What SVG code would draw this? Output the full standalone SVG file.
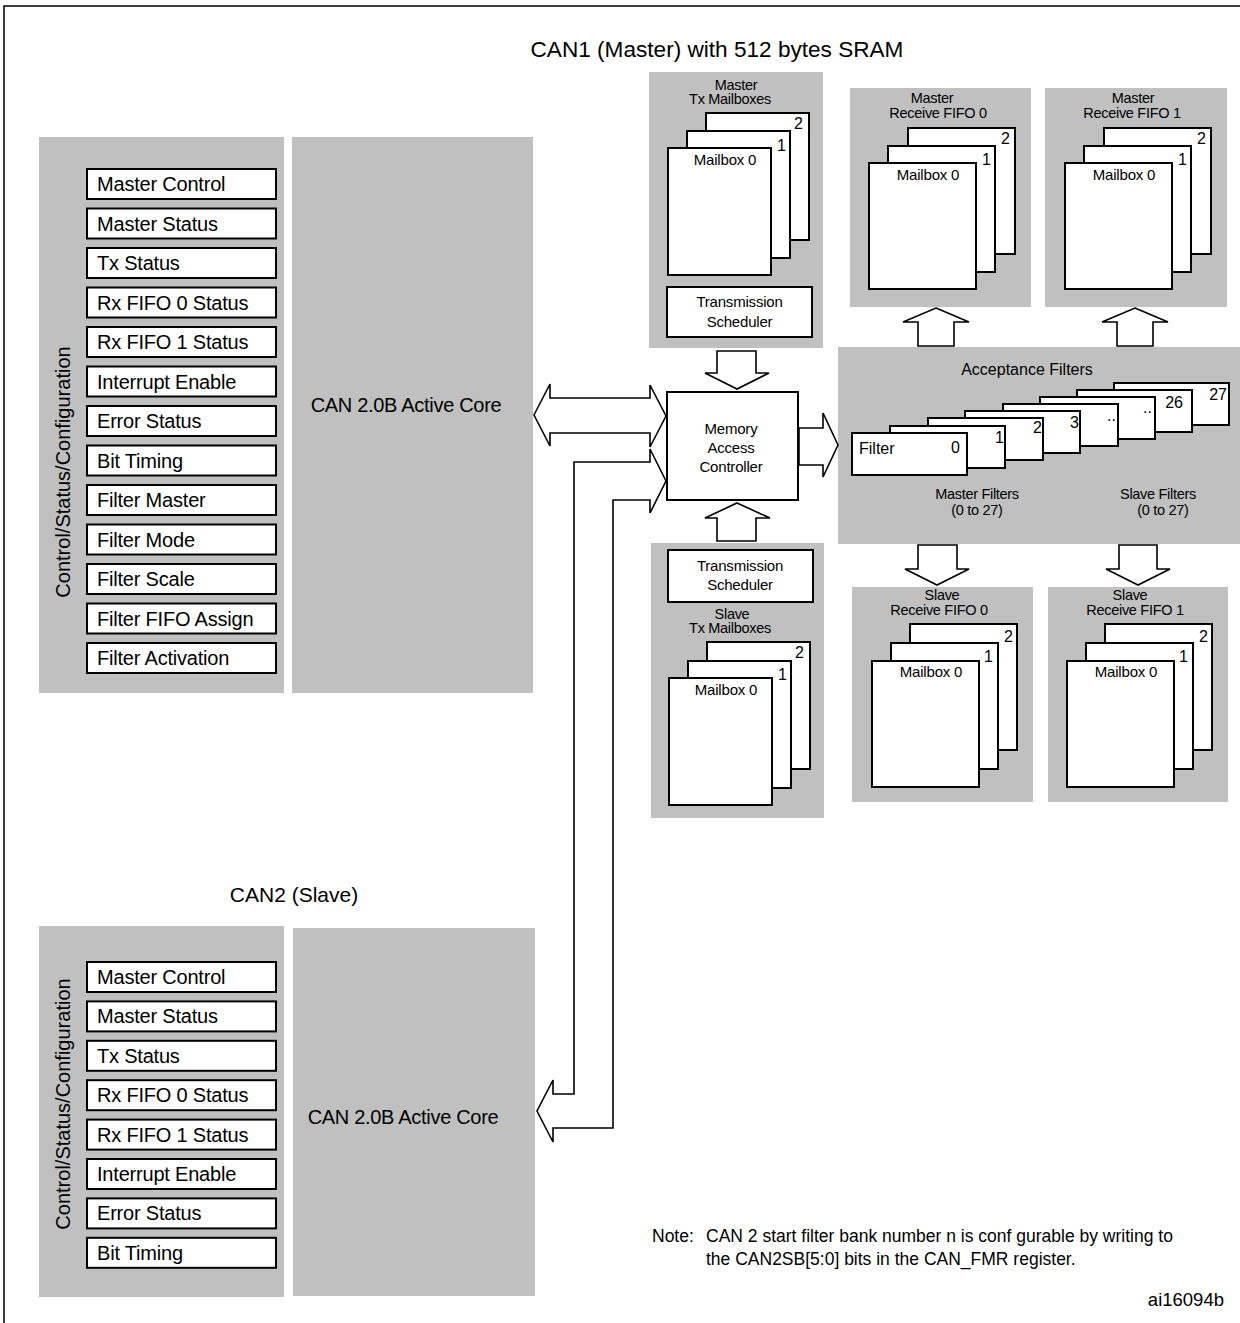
<svg xmlns="http://www.w3.org/2000/svg" width="1240" height="1323" viewBox="0 0 1240 1323">
<style>
text{font-family:"Liberation Sans",Arial,sans-serif;fill:#000}
.panel{fill:#c0c0c0}
.box{fill:#fff;stroke:#000;stroke-width:2}
.arrow{fill:#fff;stroke:#000;stroke-width:1.6;stroke-linejoin:miter}
.reg{font-size:20px;letter-spacing:-0.2px}
.sm{font-size:14.5px;letter-spacing:-0.3px;text-anchor:middle}
.mb{font-size:15px;letter-spacing:-0.2px;text-anchor:middle}
.num{font-size:16px;text-anchor:end}
.mid{text-anchor:middle}
.note{font-size:17.5px}
</style>
<rect width="1240" height="1323" fill="#fff"/>
<path d="M4,1323 V6 H1240" fill="none" stroke="#000" stroke-width="1.5"/>

<text x="717" y="57" font-size="22.6" class="mid">CAN1 (Master) with 512 bytes SRAM</text>
<text x="294" y="902" font-size="21" class="mid">CAN2 (Slave)</text>

<!-- CAN1 registers -->
<g id="can1-regs">
<rect class="panel" x="39" y="137" width="245" height="556"/>
<text transform="translate(70,472) rotate(-90)" font-size="20" class="mid">Control/Status/Configuration</text>
<rect class="box" x="87" y="169" width="189" height="30"/><text class="reg" x="97" y="191">Master Control</text>
<rect class="box" x="87" y="208.5" width="189" height="30"/><text class="reg" x="97" y="230.5">Master Status</text>
<rect class="box" x="87" y="248" width="189" height="30"/><text class="reg" x="97" y="270">Tx Status</text>
<rect class="box" x="87" y="287.5" width="189" height="30"/><text class="reg" x="97" y="309.5">Rx FIFO 0 Status</text>
<rect class="box" x="87" y="327" width="189" height="30"/><text class="reg" x="97" y="349">Rx FIFO 1 Status</text>
<rect class="box" x="87" y="366.5" width="189" height="30"/><text class="reg" x="97" y="388.5">Interrupt Enable</text>
<rect class="box" x="87" y="406" width="189" height="30"/><text class="reg" x="97" y="428">Error Status</text>
<rect class="box" x="87" y="445.5" width="189" height="30"/><text class="reg" x="97" y="467.5">Bit Timing</text>
<rect class="box" x="87" y="485" width="189" height="30"/><text class="reg" x="97" y="507">Filter Master</text>
<rect class="box" x="87" y="524.5" width="189" height="30"/><text class="reg" x="97" y="546.5">Filter Mode</text>
<rect class="box" x="87" y="564" width="189" height="30"/><text class="reg" x="97" y="586">Filter Scale</text>
<rect class="box" x="87" y="603.5" width="189" height="30"/><text class="reg" x="97" y="625.5">Filter FIFO Assign</text>
<rect class="box" x="87" y="643" width="189" height="30"/><text class="reg" x="97" y="665">Filter Activation</text>
</g>
<g id="can1-core">
<rect class="panel" x="292" y="137" width="241" height="556"/>
<text x="406" y="412" font-size="20" letter-spacing="-0.3" class="mid">CAN 2.0B Active Core</text>
</g>

<!-- CAN2 registers -->
<g id="can2-regs">
<rect class="panel" x="39" y="926" width="245" height="371"/>
<text transform="translate(70,1104) rotate(-90)" font-size="20" class="mid">Control/Status/Configuration</text>
<rect class="box" x="87" y="962" width="189" height="30"/><text class="reg" x="97" y="984">Master Control</text>
<rect class="box" x="87" y="1001.4" width="189" height="30"/><text class="reg" x="97" y="1023.4">Master Status</text>
<rect class="box" x="87" y="1040.8" width="189" height="30"/><text class="reg" x="97" y="1062.8">Tx Status</text>
<rect class="box" x="87" y="1080.2" width="189" height="30"/><text class="reg" x="97" y="1102.2">Rx FIFO 0 Status</text>
<rect class="box" x="87" y="1119.6" width="189" height="30"/><text class="reg" x="97" y="1141.6">Rx FIFO 1 Status</text>
<rect class="box" x="87" y="1159" width="189" height="30"/><text class="reg" x="97" y="1181">Interrupt Enable</text>
<rect class="box" x="87" y="1198.4" width="189" height="30"/><text class="reg" x="97" y="1220.4">Error Status</text>
<rect class="box" x="87" y="1237.8" width="189" height="30"/><text class="reg" x="97" y="1259.8">Bit Timing</text>
</g>
<g id="can2-core">
<rect class="panel" x="293" y="928" width="242" height="368"/>
<text x="403" y="1124" font-size="20" letter-spacing="-0.3" class="mid">CAN 2.0B Active Core</text>
</g>

<!-- Master Tx Mailboxes -->
<g id="master-tx">
<rect class="panel" x="649" y="72" width="174" height="276"/>
<text class="sm" x="736" y="90">Master</text>
<text class="sm" x="730" y="104">Tx Mailboxes</text>
<rect class="box" x="706" y="113" width="103" height="127"/><text class="num" x="803" y="129">2</text>
<rect class="box" x="687" y="131" width="103" height="127"/><text class="num" x="786" y="151">1</text>
<rect class="box" x="668" y="148" width="103" height="127"/><text class="mb" x="725" y="165">Mailbox 0</text>
<rect class="box" x="667" y="287" width="145" height="50"/>
<text class="mb" x="739.5" y="307">Transmission</text>
<text class="mb" x="739.5" y="327">Scheduler</text>
</g>

<!-- Master Receive FIFO 0 -->
<g id="master-fifo0">
<rect class="panel" x="850" y="88" width="181" height="219"/>
<text class="sm" x="932" y="103">Master</text>
<text class="sm" x="938" y="118">Receive FIFO 0</text>
<rect class="box" x="908" y="128" width="107" height="126"/><text class="num" x="1010" y="144">2</text>
<rect class="box" x="888" y="146" width="107" height="126"/><text class="num" x="991" y="165">1</text>
<rect class="box" x="869" y="163" width="107" height="126"/><text class="mb" x="928" y="180">Mailbox 0</text>
</g>

<!-- Master Receive FIFO 1 -->
<g id="master-fifo1">
<rect class="panel" x="1045" y="88" width="182" height="219"/>
<text class="sm" x="1133" y="103">Master</text>
<text class="sm" x="1132" y="118">Receive FIFO 1</text>
<rect class="box" x="1104" y="128" width="107" height="126"/><text class="num" x="1206" y="144">2</text>
<rect class="box" x="1084" y="146" width="107" height="126"/><text class="num" x="1187" y="165">1</text>
<rect class="box" x="1065" y="163" width="107" height="126"/><text class="mb" x="1124" y="180">Mailbox 0</text>
</g>

<!-- Memory Access Controller -->
<g id="mac">
<rect class="box" x="667" y="392" width="131" height="108"/>
<text class="mb" x="731" y="434" font-size="15.5">Memory</text>
<text class="mb" x="731" y="453" font-size="15.5">Access</text>
<text class="mb" x="731" y="472" font-size="15.5">Controller</text>
</g>

<!-- Acceptance Filters -->
<g id="acceptance-filters">
<rect class="panel" x="838" y="347" width="402" height="197"/>
<text x="1027" y="375" font-size="16" class="mid">Acceptance Filters</text>
<rect class="box" x="1114" y="383" width="115" height="42"/><text class="num" x="1227" y="400">27</text>
<rect class="box" x="1077" y="390" width="115" height="42"/><text class="num" x="1183" y="408">26</text>
<rect class="box" x="1040" y="397" width="115" height="42"/><text class="num" x="1152" y="413">..</text>
<rect class="box" x="1003" y="404" width="115" height="42"/><text class="num" x="1116" y="421">..</text>
<rect class="box" x="965" y="411" width="115" height="42"/><text class="num" x="1079" y="428">3</text>
<rect class="box" x="928" y="418" width="115" height="42"/><text class="num" x="1042" y="433">2</text>
<rect class="box" x="890" y="426" width="115" height="42"/><text class="num" x="1004" y="443">1</text>
<rect class="box" x="852" y="433" width="115" height="42"/>
<text x="859" y="454" font-size="16">Filter</text><text class="num" x="960" y="453">0</text>
<text class="sm" x="977" y="499">Master Filters</text>
<text class="sm" x="977" y="515">(0 to 27)</text>
<text class="sm" x="1158" y="499">Slave Filters</text>
<text class="sm" x="1163" y="515">(0 to 27)</text>
</g>

<!-- Slave Tx Mailboxes -->
<g id="slave-tx">
<rect class="panel" x="651" y="543" width="173" height="275"/>
<rect class="box" x="668" y="550" width="145" height="52"/>
<text class="mb" x="740" y="571">Transmission</text>
<text class="mb" x="740" y="590">Scheduler</text>
<text class="sm" x="732" y="619">Slave</text>
<text class="sm" x="730" y="633">Tx Mailboxes</text>
<rect class="box" x="707" y="642" width="103" height="127"/><text class="num" x="804" y="658">2</text>
<rect class="box" x="688" y="661" width="103" height="127"/><text class="num" x="787" y="680">1</text>
<rect class="box" x="669" y="678" width="103" height="127"/><text class="mb" x="726" y="695">Mailbox 0</text>
</g>

<!-- Slave Receive FIFO 0 -->
<g id="slave-fifo0">
<rect class="panel" x="852" y="587" width="181" height="215"/>
<text class="sm" x="942" y="600">Slave</text>
<text class="sm" x="939" y="615">Receive FIFO 0</text>
<rect class="box" x="910" y="624" width="107" height="126"/><text class="num" x="1013" y="642">2</text>
<rect class="box" x="891" y="643" width="107" height="126"/><text class="num" x="993" y="662">1</text>
<rect class="box" x="872" y="661" width="107" height="126"/><text class="mb" x="931" y="677">Mailbox 0</text>
</g>

<!-- Slave Receive FIFO 1 -->
<g id="slave-fifo1">
<rect class="panel" x="1048" y="587" width="180" height="215"/>
<text class="sm" x="1130" y="600">Slave</text>
<text class="sm" x="1135" y="615">Receive FIFO 1</text>
<rect class="box" x="1105" y="624" width="107" height="126"/><text class="num" x="1208" y="642">2</text>
<rect class="box" x="1086" y="643" width="107" height="126"/><text class="num" x="1188" y="662">1</text>
<rect class="box" x="1067" y="661" width="107" height="126"/><text class="mb" x="1126" y="677">Mailbox 0</text>
</g>

<!-- Connectors -->
<g id="connectors">
<polygon class="arrow" points="717,351 756,351 756,373 769,373 737,389 705,373 717,373"/>
<polygon class="arrow" points="737,503 770,518 756,518 756,541 717,541 717,518 705,518"/>
<polygon class="arrow" points="799,428 823,428 823,413 838,445 823,477 823,465 799,465"/>
<polygon class="arrow" points="936,308 969,322 954,322 954,346 918,346 918,322 903,322"/>
<polygon class="arrow" points="1135,308 1168,322 1153,322 1153,346 1117,346 1117,322 1102,322"/>
<polygon class="arrow" points="918,545 957,545 957,569 969,569 937,585 905,569 918,569"/>
<polygon class="arrow" points="1119,545 1157,545 1157,569 1170,569 1138,585 1106,569 1119,569"/>
<polygon class="arrow" points="534,415 550,384 550,398 650,398 650,385 666,416 650,447 650,433 550,433 550,446"/>
<polygon class="arrow" points="666,481 650,449 650,462 574,462 574,1094 553,1094 553,1080 537,1111 553,1142 553,1128 613,1128 613,500 650,500 650,513"/>
</g>

<text class="note" y="1242"><tspan x="652">Note:</tspan><tspan x="706">CAN 2 start filter bank number n is conf gurable by writing to</tspan></text>
<text class="note" x="706" y="1265">the CAN2SB[5:0] bits in the CAN_FMR register.</text>
<text x="1224" y="1306" font-size="18.5" text-anchor="end">ai16094b</text>
</svg>
